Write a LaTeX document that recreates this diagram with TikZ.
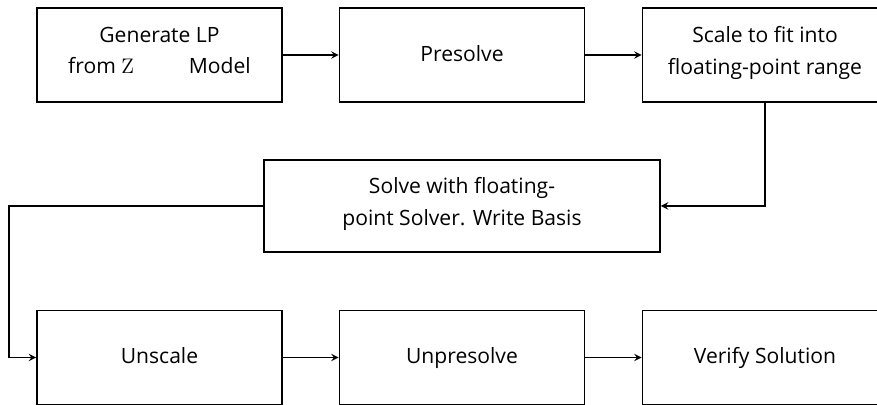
\documentclass[tikz,border=0pt]{standalone}
\usepackage{fontspec}
\setsansfont{Open Sans}
\tikzset{>=stealth}

\begin{document}
\begin{tikzpicture}[x=0.02cm,y=-0.02cm,
  stage/.style={draw,line width=0.9pt,minimum width=4.9cm,minimum height=1.88cm,align=center,
    font=\sffamily\fontsize{12}{18}\selectfont,
    execute at begin node=\strut,execute at end node=\strut},
  flow/.style={->,line width=0.9pt}]
\clip (0,0) rectangle (877,405);
\node[stage] (gen) at (159.5,55) {Generate LP\\from {\rmfamily Z}\hspace{1.1cm}Model};
\node[stage] (pre) at (462,55) {Presolve};
\node[stage] (scale) at (765,55) {Scale to fit into\\floating-point range};
\node[stage,minimum width=7.92cm,minimum height=1.84cm] (solve) at (462,206) {Solve with floating-\\point Solver. Write Basis};
\node[stage] (unscale) at (159.5,357.5) {Unscale};
\node[stage] (unpre) at (462,357.5) {Unpresolve};
\node[stage] (verify) at (765,357.5) {Verify Solution};
\coordinate (back) at (9,206);
\draw[flow] (gen) -- (pre);
\draw[flow] (pre) -- (scale);
\draw[flow] (scale.south) |- (solve.east);
\draw[flow] (solve.west) -- (back) |- (unscale.west);
\draw[flow] (unscale) -- (unpre);
\draw[flow] (unpre) -- (verify);
\end{tikzpicture}
\end{document}
